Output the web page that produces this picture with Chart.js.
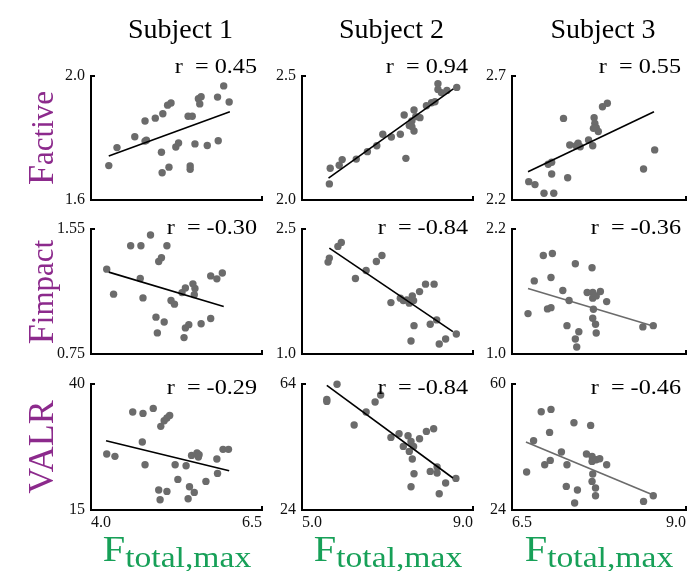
<!DOCTYPE html>
<html lang="en">
<head>
<meta charset="UTF-8">
<title>Correlation panels</title>
<script src="https://cdn.jsdelivr.net/npm/chart.js"></script>
<style>
  body { margin: 0; background: #fff; }
  #page { position: relative; width: 699px; height: 571px; overflow: hidden;
          font-family: "Liberation Serif", "Times New Roman", serif; }
  canvas { position: absolute; }
  .txt { position: absolute; white-space: pre; line-height: 1; }
</style>
</head>
<body>
<div id="page"></div>
<script>
// ---- data ----
const subjects = ['Subject 1', 'Subject 2', 'Subject 3'];
const xTicks = [['4.0', '6.5'], ['5.0', '9.0'], ['6.5', '9.0']];
const yTicksActive = [['1.6', '2.0'], ['2.0', '2.5'], ['2.2', '2.7']];
const yTicksImpact = [['0.75', '1.55'], ['1.0', '2.5'], ['1.0', '2.2']];
const yTicksValr = [['15', '40'], ['24', '64'], ['24', '60']];
const rActive = ['0.45', '0.94', '0.55'];
const rImpact = ['-0.30', '-0.84', '-0.36'];
const rValr = ['-0.29', '-0.84', '-0.46'];

const active1 = [[4.26,1.711],[4.38,1.769],[4.64,1.804],[4.79,1.790],[4.81,1.793],[4.79,1.855],[4.94,1.864],[5.05,1.878],[5.12,1.906],[5.17,1.913],[5.03,1.754],[5.04,1.688],[5.14,1.706],[5.24,1.771],[5.28,1.784],[5.42,1.870],[5.48,1.870],[5.45,1.710],[5.45,1.699],[5.52,1.781],[5.57,1.927],[5.61,1.933],[5.59,1.910],[5.70,1.776],[5.86,1.791],[5.85,1.932],[5.94,1.968],[6.02,1.916]];
const active2 = [[5.64,2.065],[5.66,2.128],[5.87,2.140],[5.94,2.163],[6.27,2.165],[6.53,2.195],[6.75,2.219],[6.89,2.265],[7.09,2.254],[7.30,2.265],[7.43,2.168],[7.39,2.343],[7.51,2.300],[7.57,2.319],[7.62,2.363],[7.62,2.278],[7.66,2.336],[7.76,2.332],[7.91,2.380],[8.03,2.392],[8.11,2.396],[8.18,2.469],[8.18,2.446],[8.26,2.433],[8.39,2.442],[8.62,2.454],[7.57,2.296]];
const active3 = [[6.74,2.274],[6.83,2.262],[6.96,2.227],[7.10,2.227],[7.07,2.305],[7.02,2.344],[7.07,2.352],[7.24,2.529],[7.30,2.290],[7.33,2.422],[7.42,2.419],[7.45,2.429],[7.48,2.415],[7.60,2.442],[7.66,2.419],[7.68,2.532],[7.69,2.509],[7.71,2.492],[7.74,2.476],[7.67,2.489],[7.80,2.576],[7.87,2.590],[8.39,2.325],[8.55,2.402]];
const impact1 = [[4.23,1.293],[4.33,1.133],[4.58,1.443],[4.73,1.443],[4.87,1.512],[4.72,1.233],[4.76,1.109],[4.99,1.342],[5.03,1.366],[5.11,1.443],[4.95,0.986],[4.97,0.885],[5.07,0.955],[5.17,1.092],[5.22,1.069],[5.33,1.143],[5.38,1.172],[5.36,0.855],[5.38,0.917],[5.43,0.938],[5.49,1.199],[5.52,1.169],[5.51,1.130],[5.61,0.944],[5.75,0.977],[5.75,1.250],[5.84,1.231],[5.92,1.268]];
const impact2 = [[5.61,2.103],[5.64,2.151],[5.84,2.291],[5.92,2.339],[6.25,1.906],[6.50,2.002],[6.74,2.110],[6.87,2.182],[7.08,1.617],[7.30,1.670],[7.37,1.641],[7.45,1.649],[7.51,1.610],[7.58,1.697],[7.61,1.641],[7.75,1.749],[7.89,1.838],[8.09,1.838],[7.62,1.340],[7.55,1.156],[8.00,1.357],[8.15,1.409],[8.21,1.120],[8.36,1.180],[8.61,1.240]];
const impact3 = [[6.73,1.388],[6.82,1.702],[6.95,1.946],[7.08,1.965],[7.06,1.734],[7.01,1.433],[7.06,1.445],[7.23,1.609],[7.29,1.272],[7.32,1.513],[7.41,1.866],[7.41,1.144],[7.43,1.067],[7.46,1.214],[7.58,1.590],[7.65,1.828],[7.66,1.590],[7.66,1.536],[7.71,1.558],[7.77,1.600],[7.67,1.430],[7.66,1.343],[7.70,1.286],[7.71,1.202],[7.86,1.503],[8.38,1.260],[8.53,1.272]];
const valr1 = [[4.23,26.11],[4.35,25.64],[4.61,34.44],[4.76,34.17],[4.91,35.16],[4.75,28.49],[4.79,23.99],[5.02,31.60],[5.07,32.72],[5.11,33.25],[5.15,33.77],[4.99,18.97],[5.01,17.04],[5.11,18.69],[5.23,23.99],[5.27,21.07],[5.39,23.79],[5.44,19.62],[5.42,17.24],[5.47,25.83],[5.51,18.49],[5.55,26.31],[5.58,25.97],[5.57,25.52],[5.68,20.67],[5.84,25.12],[5.85,22.26],[5.93,27.03],[6.01,27.03]];
const valr2 = [[5.58,59.11],[5.58,58.48],[5.82,63.9],[6.22,50.98],[6.50,55.11],[6.71,58.29],[6.84,60.51],[7.08,47.05],[7.27,48.22],[7.37,44.19],[7.48,47.59],[7.51,42.60],[7.55,45.78],[7.61,44.19],[7.58,40.19],[7.62,35.52],[7.55,31.40],[7.75,46.63],[7.91,48.95],[8.08,49.81],[8.00,36.25],[8.16,37.65],[8.16,35.75],[8.21,29.17],[8.36,32.57],[8.60,34.03]];
const valr3 = [[6.71,34.86],[6.81,43.80],[6.92,52.09],[7.06,52.74],[7.04,46.17],[6.97,36.94],[7.05,38.17],[7.21,40.57],[7.28,30.74],[7.29,36.94],[7.39,48.94],[7.40,26.0],[7.44,29.71],[7.57,40.0],[7.63,48.17],[7.65,39.31],[7.65,37.89],[7.71,38.37],[7.76,38.66],[7.66,34.29],[7.65,32.17],[7.70,30.29],[7.70,28.09],[7.86,36.94],[8.39,26.46],[8.53,28.09]];

// fitted line end points
const fitActive = [[[4.26,1.742],[6.03,1.885]], [[5.62,2.088],[8.54,2.448]], [[6.73,2.314],[8.54,2.556]]];
const fitImpact = [[[4.26,1.274],[5.94,1.054]], [[5.64,2.271],[8.53,1.268]], [[6.73,1.628],[8.55,1.263]]];
const fitValr = [[[4.22,28.75],[6.02,22.80]], [[5.58,63.56],[8.53,34.16]], [[6.70,43.43],[8.52,28.37]]];

// ---- layout ----
const page = document.getElementById('page');
const colL = [91, 302, 512], colR = [262, 473, 686];
const rowT = [76, 229, 384], rowB = [200, 354, 510];
const padL = 50, padT = 12, padR = 14, xH = 26;
const serif = '"Liberation Serif", "Times New Roman", serif';
const purple = '#8c2a8c', green = '#17a058';

// little inward tick stubs at the axis ends
const stubs = {
  id: 'stubs',
  afterDraw(chart) {
    const { ctx, chartArea: a } = chart;
    ctx.save();
    ctx.strokeStyle = '#000';
    ctx.lineWidth = 2;
    ctx.beginPath();
    ctx.moveTo(a.left, a.top); ctx.lineTo(a.left + 4, a.top);
    ctx.moveTo(a.right, a.bottom); ctx.lineTo(a.right, a.bottom - 4);
    ctx.stroke();
    ctx.restore();
  }
};

function zeroPad(s) { s.paddingLeft = s.paddingRight = s.paddingTop = s.paddingBottom = 0; }

function makePanel(r, c, pts, fit, fitColor, yT, rTxt) {
  const L = colL[c], R = colR[c], T = rowT[r], B = rowB[r];
  const cv = document.createElement('canvas');
  cv.width = (R - L) + padL + padR;
  cv.height = (B - T) + padT + xH;
  cv.style.left = (L - padL) + 'px';
  cv.style.top = (T - padT) + 'px';
  page.appendChild(cv);

  const xmin = parseFloat(xTicks[c][0]), xmax = parseFloat(xTicks[c][1]);
  const ymin = parseFloat(yT[0]), ymax = parseFloat(yT[1]);

  new Chart(cv, {
    data: {
      datasets: [
        { type: 'line', data: fit.map(p => ({ x: p[0], y: p[1] })), borderColor: fitColor,
          borderWidth: 1.6, pointRadius: 0, clip: false, order: 0 },
        { type: 'scatter', data: pts.map(p => ({ x: p[0], y: p[1] })), backgroundColor: '#6b6b6b',
          borderWidth: 0, pointRadius: 3.7, clip: false, order: 1 }
      ]
    },
    options: {
      responsive: false, animation: false, events: [],
      layout: { padding: { left: 0, top: padT, right: padR, bottom: 0 } },
      plugins: { legend: { display: false }, tooltip: { enabled: false } },
      scales: {
        x: {
          type: 'linear', min: xmin, max: xmax,
          grid: { display: false, drawTicks: false },
          border: { color: '#000', width: 2 },
          afterBuildTicks: s => { s.ticks = [{ value: xmin }, { value: xmax }]; },
          ticks: { display: r === 2, align: 'inner', padding: 3, color: '#111',
                   font: { family: serif, size: 16 }, callback: (v, i) => xTicks[c][i] },
          afterFit: s => { s.height = xH; zeroPad(s); }
        },
        y: {
          type: 'linear', min: ymin, max: ymax,
          grid: { display: false, drawTicks: false },
          border: { color: '#000', width: 2 },
          afterBuildTicks: s => { s.ticks = [{ value: ymin }, { value: ymax }]; },
          ticks: { padding: 6, color: '#111', font: { family: serif, size: 16 },
                   callback: (v, i) => yT[i] },
          afterFit: s => { s.width = padL; zeroPad(s); }
        }
      }
    },
    plugins: [stubs]
  });

  // correlation label
  const rBase = [73.5, T + 5, T + 10][r];
  const d = document.createElement('div');
  d.className = 'txt';
  d.style.fontSize = '22px';
  d.style.left = (R - 5) + 'px';
  d.style.top = (rBase - 0.836 * 22) + 'px';
  d.style.transformOrigin = '0 0';
  d.style.transform = 'scaleX(1.1) translateX(-100%)';
  d.textContent = 'r  = ' + rTxt;
  page.appendChild(d);
}

const rows = [
  { pts: [active1, active2, active3], fit: fitActive, yT: yTicksActive, r: rActive },
  { pts: [impact1, impact2, impact3], fit: fitImpact, yT: yTicksImpact, r: rImpact },
  { pts: [valr1, valr2, valr3], fit: fitValr, yT: yTicksValr, r: rValr }
];
rows.forEach((row, r) => {
  for (let c = 0; c < 3; c++) {
    const col = (c === 2 && r > 0) ? '#6b6b6b' : '#000';
    makePanel(r, c, row.pts[c], row.fit[c], col, row.yT[c], row.r[c]);
  }
});

// column titles and x-axis titles
subjects.forEach((s, c) => {
  const cx = (colL[c] + colR[c]) / 2;
  const t = document.createElement('div');
  t.className = 'txt';
  t.style.fontSize = '28px';
  t.style.left = (cx + 4) + 'px';
  t.style.top = (38 - 0.836 * 28) + 'px';
  t.style.transform = 'translateX(-50%)';
  t.textContent = s;
  page.appendChild(t);

  const xt = document.createElement('div');
  xt.className = 'txt';
  xt.style.fontSize = '36px';
  xt.style.color = green;
  xt.style.left = cx + 'px';
  xt.style.top = (561 - 0.836 * 36) + 'px';
  xt.style.transform = 'translateX(-50%) scaleX(1.12)';
  xt.innerHTML = 'F<span style="font-size:30px;position:relative;top:6px">total,max</span>';
  page.appendChild(xt);
});

// row titles (rotated)
const rowTitles = [['F', 'active'], ['F', 'impact'], ['VALR', '']];
rowTitles.forEach((t, r) => {
  const cy = (rowT[r] + rowB[r]) / 2;
  const d = document.createElement('div');
  d.className = 'txt';
  d.style.fontSize = '36px';
  d.style.color = purple;
  d.style.left = '41px';
  d.style.top = cy + 'px';
  d.style.transform = 'translate(-50%, -50%) rotate(-90deg)';
  d.innerHTML = t[0] + (t[1] ? '<span style="font-size:31px">' + t[1] + '</span>' : '');
  page.appendChild(d);
});
</script>
</body>
</html>
